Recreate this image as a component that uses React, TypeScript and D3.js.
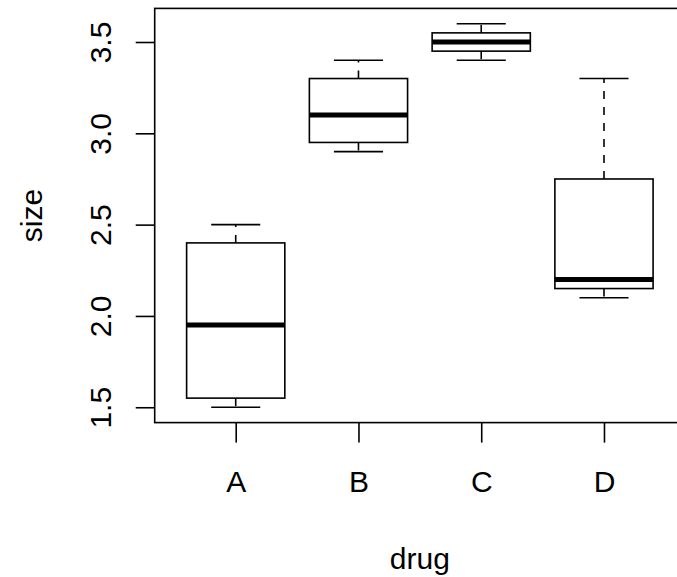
import React, { useEffect, useRef } from 'react';
import * as d3 from 'd3';

// values
const drugs = ['A', 'B', 'C', 'D'];
const mins = [1.5, 2.9, 3.4, 2.1];
const q1s = [1.55, 2.95, 3.45, 2.15];
const medians = [1.95, 3.1, 3.5, 2.2];
const q3s = [2.4, 3.3, 3.55, 2.75];
const maxs = [2.5, 3.4, 3.6, 3.3];
const yTicks = [1.5, 2.0, 2.5, 3.0, 3.5];

const App = () => {
  const svgRef = useRef<SVGSVGElement>(null);

  useEffect(() => {
    const width = 677;
    const height = 577;
    const font = '"Liberation Sans", Arial, Helvetica, sans-serif';

    const svg = d3.select(svgRef.current);
    svg.selectAll('*').remove();

    // R style: xlim 0.5..n+0.5 plus 4% on each side
    const xScale = d3.scaleLinear().domain([0.34, 4.66]).range([154.7, 685]);
    const yScale = d3.scaleLinear().domain([1.416, 3.684]).range([422.6, 8.4]);
    const unit = xScale(2) - xScale(1);
    const boxW = unit * 0.8;
    const capW = boxW / 2;

    // plot frame
    svg
      .append('rect')
      .attr('x', xScale(0.34))
      .attr('y', yScale(3.684))
      .attr('width', xScale(4.66) - xScale(0.34))
      .attr('height', yScale(1.416) - yScale(3.684))
      .attr('fill', 'none')
      .attr('stroke', '#000')
      .attr('stroke-width', 1.6);

    // y axis
    const yAxis = svg
      .append('g')
      .attr('transform', `translate(${xScale(0.34)},0)`)
      .call(d3.axisLeft(yScale).tickValues(yTicks).tickSize(19).tickFormat(d3.format('.1f')));
    yAxis.select('.domain').remove();
    yAxis.selectAll('line').attr('stroke-width', 1.6);
    yAxis
      .selectAll('text')
      .attr('x', null)
      .attr('dy', null)
      .attr('transform', 'translate(-44,0) rotate(-90)')
      .attr('text-anchor', 'middle')
      .attr('font-size', 30)
      .attr('font-family', font)
      .attr('fill', '#000');

    // x axis
    const xAxis = svg
      .append('g')
      .attr('transform', `translate(0,${yScale(1.416)})`)
      .call(
        d3
          .axisBottom(xScale)
          .tickValues([1, 2, 3, 4])
          .tickSize(20)
          .tickFormat((d) => drugs[+d - 1])
      );
    xAxis.select('.domain').remove();
    xAxis.selectAll('line').attr('stroke-width', 1.6);
    xAxis
      .selectAll('text')
      .attr('y', 69)
      .attr('dy', null)
      .attr('font-size', 30)
      .attr('font-family', font)
      .attr('fill', '#000');

    // boxes
    const g = svg.append('g').attr('stroke', '#000').attr('fill', 'none');
    drugs.forEach((d, i) => {
      const cx = xScale(i + 1);
      // whiskers
      g.append('line')
        .attr('x1', cx).attr('x2', cx)
        .attr('y1', yScale(q1s[i])).attr('y2', yScale(mins[i]))
        .attr('stroke-width', 1.6)
        .attr('stroke-dasharray', '8,8');
      g.append('line')
        .attr('x1', cx).attr('x2', cx)
        .attr('y1', yScale(q3s[i])).attr('y2', yScale(maxs[i]))
        .attr('stroke-width', 1.6)
        .attr('stroke-dasharray', '8,8');
      // caps
      [mins[i], maxs[i]].forEach((v) => {
        g.append('line')
          .attr('x1', cx - capW / 2).attr('x2', cx + capW / 2)
          .attr('y1', yScale(v)).attr('y2', yScale(v))
          .attr('stroke-width', 1.6);
      });
      // box
      g.append('rect')
        .attr('x', cx - boxW / 2)
        .attr('y', yScale(q3s[i]))
        .attr('width', boxW)
        .attr('height', yScale(q1s[i]) - yScale(q3s[i]))
        .attr('stroke-width', 1.6);
      // median
      g.append('line')
        .attr('x1', cx - boxW / 2).attr('x2', cx + boxW / 2)
        .attr('y1', yScale(medians[i])).attr('y2', yScale(medians[i]))
        .attr('stroke-width', 5);
    });

    // axis titles
    svg
      .append('text')
      .attr('x', (xScale(0.34) + xScale(4.66)) / 2)
      .attr('y', 569)
      .attr('text-anchor', 'middle')
      .attr('font-size', 30)
      .attr('font-family', font)
      .text('drug');

    svg
      .append('text')
      .attr('transform', `translate(41.7,${(yScale(1.416) + yScale(3.684)) / 2}) rotate(-90)`)
      .attr('text-anchor', 'middle')
      .attr('font-size', 30)
      .attr('font-family', font)
      .text('size');

    svg.attr('width', width).attr('height', height);
  }, []);

  return (
    <svg
      ref={svgRef}
      width={677}
      height={577}
      style={{ position: 'absolute', left: 0, top: 0, background: '#fff' }}
    ></svg>
  );
};

export default App;
